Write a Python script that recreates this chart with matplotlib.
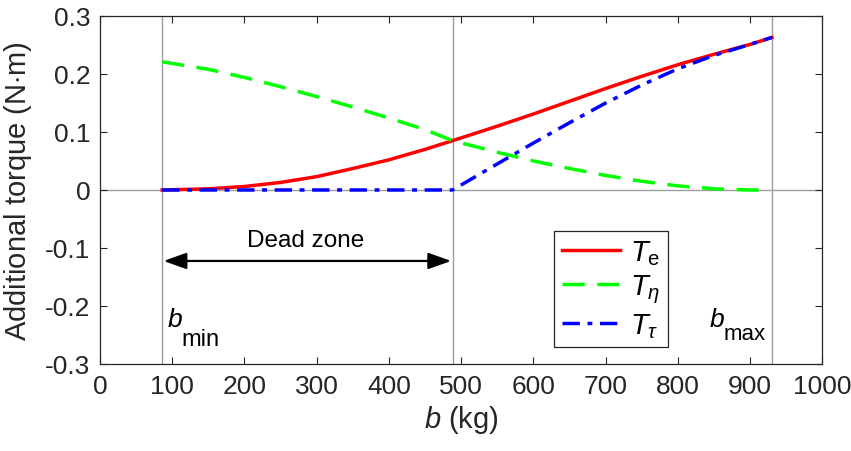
import matplotlib
matplotlib.use('Agg')
import matplotlib.pyplot as plt

plt.rcParams['font.family'] = ['Liberation Sans', 'DejaVu Sans']
plt.rcParams['mathtext.fontset'] = 'custom'
plt.rcParams['mathtext.rm'] = 'Liberation Sans'
plt.rcParams['mathtext.it'] = 'Liberation Sans:italic'
plt.rcParams['mathtext.bf'] = 'Liberation Sans:bold'

# values
b_min, b_0, b_max = 86, 488, 930
b = [86, 150, 200, 250, 300, 350, 400, 450, 488, 550, 600, 650, 700, 750, 800, 850, 900, 930]
T_e = [0.000, 0.002, 0.006, 0.013, 0.023, 0.037, 0.052, 0.070, 0.085, 0.110, 0.131,
       0.153, 0.175, 0.196, 0.216, 0.234, 0.251, 0.263]
b_eta = [86, 150, 200, 250, 300, 350, 400, 450, 488, 550, 600, 650, 700, 750, 800, 850, 900, 915]
T_eta = [0.221, 0.208, 0.194, 0.178, 0.161, 0.143, 0.124, 0.104, 0.085, 0.065, 0.050,
         0.037, 0.025, 0.015, 0.007, 0.002, 0.000, 0.000]
T_tau = [0.000, 0.000, 0.000, 0.000, 0.000, 0.000, 0.000, 0.000, 0.000, 0.045, 0.081,
         0.116, 0.150, 0.181, 0.209, 0.232, 0.251, 0.263]

xticks = [0, 100, 200, 300, 400, 500, 600, 700, 800, 900, 1000]
yticks = [-0.3, -0.2, -0.1, 0, 0.1, 0.2, 0.3]
ytick_labels = ['-0.3', '-0.2', '-0.1', '0', '0.1', '0.2', '0.3']

dark = (0.15, 0.15, 0.15)
grey = (0.62, 0.62, 0.62)

fig = plt.figure(figsize=(8.51, 4.52), dpi=100)
ax = fig.add_axes([0.1175, 0.1925, 0.849, 0.77])

# reference lines
for xv in (b_min, b_0, b_max):
    ax.axvline(xv, color=grey, lw=1.0, zorder=1)
ax.axhline(0, color=grey, lw=1.0, zorder=1)

ax.plot(b, T_e, color=(1, 0, 0), lw=2.5, label=r'$T_{\mathrm{e}}$', zorder=3)
ax.plot(b_eta, T_eta, color=(0, 1, 0), lw=2.5, dashes=(6.4, 3.6), label=r'$T_\eta$', zorder=3)
ax.plot(b, T_tau, color=(0, 0, 1), lw=2.5, dashes=(5.0, 2.2, 1.4, 2.2), label=r'$T_\tau$', zorder=4)

# dead zone arrow
ax.annotate('', xy=(b_min + 2, -0.1224), xytext=(b_0 - 2, -0.1224),
            arrowprops=dict(arrowstyle='<|-|>,head_length=1.4,head_width=0.5',
                            color='black', lw=1.6, shrinkA=0, shrinkB=0))
ax.text(285, -0.087, 'Dead zone', fontsize=17.5, ha='center', va='center', color='black')

# b_min / b_max labels
ax.text(94, -0.2345, 'b', fontsize=19, style='italic', color='black')
ax.annotate('min', xy=(94, -0.2345), xytext=(14, -19), textcoords='offset pixels',
            fontsize=17, color='black')
ax.text(844, -0.2345, 'b', fontsize=19, style='italic', color='black')
ax.annotate('max', xy=(844, -0.2345), xytext=(14, -13), textcoords='offset pixels',
            fontsize=16, color='black')

ax.set_xlim(0, 1000)
ax.set_ylim(-0.3, 0.3)
ax.set_xticks(xticks)
ax.set_yticks(yticks)
ax.set_yticklabels(ytick_labels)
ax.tick_params(direction='in', length=5, width=0.8, colors=dark, labelsize=19,
               top=True, right=True, pad=7)
for s in ax.spines.values():
    s.set_color(dark)
    s.set_linewidth(0.9)

ax.set_xlabel(r'$b$ (kg)', fontsize=21, color=dark, labelpad=4)
ax.set_ylabel(r'Additional torque (N$\cdot$m)', fontsize=21, color=dark, labelpad=8)

leg = ax.legend(loc='upper left', bbox_to_anchor=(0.629, 0.383), fontsize=21,
                frameon=True, fancybox=False, framealpha=1, edgecolor=dark,
                handlelength=2.0, borderpad=0.25, labelspacing=0.2, handletextpad=0.35,
                borderaxespad=0)
leg.get_frame().set_linewidth(0.9)

fig.savefig('out.png', dpi=100)
